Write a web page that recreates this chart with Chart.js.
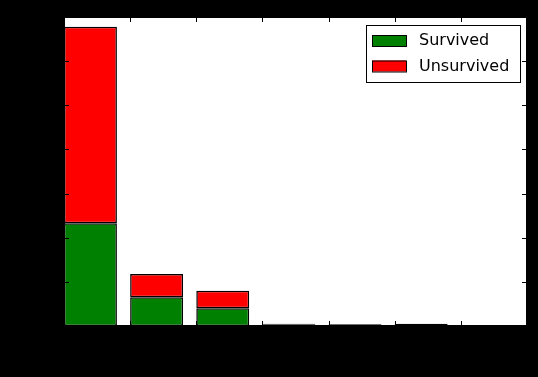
<!DOCTYPE html>
<html lang="en">
<head>
    <meta charset="UTF-8">
    <title>Survived / Unsurvived by Parch</title>
    <script src="https://cdn.jsdelivr.net/npm/chart.js"></script>
    <style>
        html, body { margin: 0; padding: 0; background: #000; }
        #wrap { width: 538px; height: 377px; }
    </style>
</head>
<body>
<div id="wrap">
    <canvas id="barChart"></canvas>
</div>

<script>
    // Parch categories (bar left edges at 0..6, width 0.8)
    const categories = [0, 1, 2, 3, 4, 5, 6];
    const survived = [233, 65, 40, 3, 0, 1, 0];
    const unsurvived = [445, 53, 40, 2, 4, 4, 1];
    const yTicks = [0, 100, 200, 300, 400, 500, 600, 700];
    const xTicks = [0, 1, 2, 3, 4, 5, 6, 7];

    const toPoints = vals => categories.map((c, i) => ({ x: c + 0.4, y: vals[i] }));

    // white axes area on the black figure
    const axesBg = {
        id: 'axesBg',
        beforeDraw(chart) {
            const { ctx, chartArea: a } = chart;
            ctx.save();
            ctx.fillStyle = '#000';
            ctx.fillRect(0, 0, chart.width, chart.height);
            ctx.fillStyle = '#fff';
            ctx.fillRect(a.left, a.top, a.right - a.left, a.bottom - a.top);
            ctx.restore();
        }
    };

    // matplotlib classic style: ticks pointing inward on all four sides
    const innerTicks = {
        id: 'innerTicks',
        afterDatasetsDraw(chart) {
            const { ctx, chartArea: a, scales } = chart;
            ctx.save();
            ctx.strokeStyle = '#000';
            ctx.lineWidth = 1;
            ctx.beginPath();
            yTicks.forEach(v => {
                const y = Math.round(scales.y.getPixelForValue(v)) + 0.5;
                ctx.moveTo(a.left, y); ctx.lineTo(a.left + 5, y);
                ctx.moveTo(a.right, y); ctx.lineTo(a.right - 5, y);
            });
            xTicks.forEach(v => {
                const x = Math.round(scales.x.getPixelForValue(v)) + 0.5;
                ctx.moveTo(x, a.bottom); ctx.lineTo(x, a.bottom - 5);
                ctx.moveTo(x, a.top); ctx.lineTo(x, a.top + 5);
            });
            ctx.stroke();
            ctx.strokeRect(a.left + 0.5, a.top + 0.5, a.right - a.left - 1, a.bottom - a.top - 1);
            ctx.restore();
        }
    };

    // boxed legend in the upper right corner of the axes
    const boxLegend = {
        id: 'boxLegend',
        afterDraw(chart) {
            const { ctx, chartArea: a } = chart;
            const w = 154, h = 57;
            const x0 = a.right - 7 - w, y0 = a.top + 8;
            ctx.save();
            ctx.fillStyle = '#fff';
            ctx.fillRect(x0, y0, w, h);
            ctx.strokeStyle = '#000';
            ctx.lineWidth = 1;
            ctx.strokeRect(x0 + 0.5, y0 + 0.5, w, h);
            ctx.font = '16px "DejaVu Sans"';
            ctx.textBaseline = 'middle';
            chart.data.datasets.forEach((ds, i) => {
                const cy = y0 + 15 + i * 25.5;
                ctx.fillStyle = ds.backgroundColor;
                ctx.fillRect(x0 + 6, cy - 5, 34, 11);
                ctx.strokeRect(x0 + 6.5, cy - 4.5, 34, 11);
                ctx.fillStyle = '#000';
                ctx.fillText(ds.label, x0 + 53, cy + 1);
            });
            ctx.restore();
        }
    };

    new Chart(document.getElementById('barChart'), {
        type: 'bar',
        data: {
            datasets: [
                {
                    label: 'Survived',
                    data: toPoints(survived),
                    backgroundColor: '#008000',
                    borderColor: '#000',
                    borderWidth: 1.5,
                    borderSkipped: false,
                    barPercentage: 0.8,
                    categoryPercentage: 1
                },
                {
                    label: 'Unsurvived',
                    data: toPoints(unsurvived),
                    backgroundColor: '#ff0000',
                    borderColor: '#000',
                    borderWidth: 1.5,
                    borderSkipped: false,
                    barPercentage: 0.8,
                    categoryPercentage: 1
                }
            ]
        },
        options: {
            responsive: true,
            maintainAspectRatio: false,
            animation: false,
            layout: { padding: { top: 17, right: 11, left: 0, bottom: 0 } },
            plugins: {
                legend: { display: false },
                tooltip: { enabled: false }
            },
            scales: {
                x: {
                    type: 'linear',
                    stacked: true,
                    offset: false,
                    min: 0,
                    max: 7,
                    grid: { display: false },
                    border: { display: false },
                    ticks: { stepSize: 1, color: '#000', font: { family: 'DejaVu Sans', size: 13 } },
                    afterFit(scale) { scale.height = 51; }
                },
                y: {
                    stacked: true,
                    min: 0,
                    max: 700,
                    grid: { display: false },
                    border: { display: false },
                    ticks: { stepSize: 100, color: '#000', font: { family: 'DejaVu Sans', size: 13 } },
                    afterFit(scale) { scale.width = 64; }
                }
            }
        },
        plugins: [axesBg, innerTicks, boxLegend]
    });
</script>
</body>
</html>
